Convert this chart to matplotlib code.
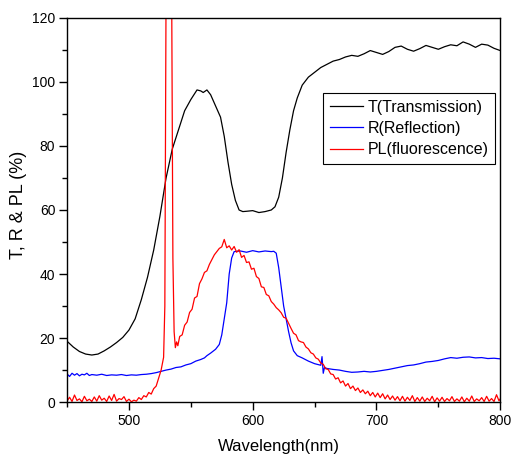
import matplotlib
matplotlib.use("Agg")
import matplotlib.pyplot as plt
from matplotlib.ticker import MultipleLocator

plt.rcParams['font.family'] = ['Liberation Sans', 'DejaVu Sans']

# Transmission (black)
t_nm = [450, 455, 460, 465, 470, 475, 480, 485, 490, 495, 500, 505, 510, 515, 520, 525, 530, 535, 540,
        545, 550, 555, 558, 560, 563, 566, 570, 574, 577, 580, 583, 586, 589, 592, 595, 600, 605, 610,
        615, 618, 621, 624, 627, 630, 633, 636, 640, 645, 650, 655, 660, 665, 670, 675, 680, 685, 690,
        695, 700, 705, 710, 715, 720, 725, 730, 735, 740, 745, 750, 755, 760, 765, 770, 775, 780, 785,
        790, 795, 800]
t_val = [19.0, 17.2, 15.8, 15.0, 14.7, 15.0, 16.0, 17.2, 18.6, 20.2, 22.5, 26.0, 32.0, 39.0, 47.5, 58.0,
         70.0, 79.0, 85.0, 91.0, 94.5, 97.5, 97.2, 96.7, 97.5, 96.0, 92.5, 89.0, 83.0, 75.0, 68.0, 63.0,
         60.0, 59.5, 59.6, 59.8, 59.2, 59.5, 60.0, 61.0, 64.0, 70.0, 78.0, 85.0, 91.0, 95.0, 99.0, 101.5,
         103.0, 104.5, 105.5, 106.5, 107.0, 107.8, 108.3, 108.0, 108.8, 109.8, 109.2, 108.6, 109.5, 110.8,
         111.2, 110.2, 109.6, 110.4, 111.4, 110.8, 110.2, 111.0, 111.6, 111.3, 112.5, 111.8, 110.8, 111.8,
         111.5, 110.5, 109.8]

# Reflection (blue)
r_nm = [450, 452, 454, 456, 458, 460, 462, 464, 466, 468, 470, 474, 478, 482, 486, 490, 494, 498, 502,
        506, 510, 514, 518, 522, 526, 530, 534, 538, 542, 546, 550, 554, 558, 561, 563, 566, 570, 573,
        575, 577, 579, 581, 583, 585, 590, 595, 600, 605, 610, 615, 617, 619, 621, 623, 625, 627, 629,
        631, 633, 636, 640, 645, 650, 655, 656, 657, 658, 660, 665, 670, 675, 680, 685, 690, 695, 700,
        705, 710, 715, 720, 725, 730, 735, 740, 745, 750, 755, 760, 765, 770, 775, 780, 785, 790, 795, 800]
r_val = [8.8, 8.0, 9.0, 8.4, 8.9, 8.2, 8.7, 8.5, 9.0, 8.3, 8.6, 8.4, 8.7, 8.3, 8.5, 8.4, 8.6, 8.3, 8.5,
         8.4, 8.6, 8.7, 8.9, 9.2, 9.6, 10.0, 10.3, 10.8, 11.0, 11.6, 12.0, 12.8, 13.3, 13.8, 14.5, 15.3,
         16.5, 18.0, 21.0, 26.0, 31.0, 40.0, 45.0, 47.0, 47.2, 46.8, 47.3, 46.9, 47.2, 47.0, 47.1, 46.5,
         42.0, 36.0, 30.0, 26.0, 22.0, 18.5, 16.0, 14.5, 13.8, 12.8, 12.0, 11.5, 14.2, 9.0, 10.8, 10.5,
         10.2, 10.0, 9.6, 9.3, 9.4, 9.6, 9.4, 9.6, 9.9, 10.2, 10.6, 11.0, 11.4, 11.6, 12.0, 12.5, 12.7,
         13.0, 13.5, 13.9, 13.7, 14.0, 14.1, 13.8, 13.9, 13.6, 13.7, 13.5]

# Photoluminescence (red), in three wavelength segments
pl_nm_low = list(range(450, 529, 2))          # 450 ... 528
pl_val_low = [0.3, 1.5, 0.2, 2.2, 0.5, 1.0, 0.1, 1.8, 0.4, 0.9,
              0.2, 1.6, 0.3, 2.0, 0.6, 1.2, 0.2, 1.9, 0.5, 2.4,
              0.3, 1.1, 0.8, 1.7, 0.2, 0.9, 0.1, 0.6, 0.3, 1.4,
              0.8, 2.0, 1.6, 3.0, 2.5, 4.2, 5.0, 7.5, 10.0, 14.0]
pl_nm_peak = [529, 530, 531, 533, 534.5, 535.5, 536.5, 537.5, 538.5, 539.5]
pl_val_peak = [30.0, 130.0, 140.0, 140.0, 130.0, 45.0, 22.0, 17.0, 18.8, 17.6]
pl_nm_high = list(range(541, 800, 2)) + [800]  # 541 ... 799, 800
pl_val_high = [20.5, 21.0, 24.0, 25.0, 28.0, 29.0, 32.5, 33.0, 37.0, 38.5,
               40.5, 41.0, 43.0, 44.5, 46.0, 47.0, 48.0, 48.5, 50.8, 48.2,
               48.8, 47.5, 48.6, 46.8, 47.6, 45.2, 45.8, 43.6, 43.8, 41.5,
               41.8, 39.2, 38.6, 36.0, 35.8, 33.6, 33.2, 31.4, 30.6, 29.5,
               28.8, 27.9, 26.5, 26.2, 24.6, 23.0, 21.5, 21.0, 19.2, 18.8,
               18.6, 17.2, 16.6, 15.4, 15.0, 13.8, 13.4, 12.2, 11.8, 10.4,
               10.2, 8.8, 8.6, 7.2, 7.6, 6.0, 6.6, 5.0, 5.8, 4.2,
               5.0, 3.6, 4.4, 3.0, 3.8, 2.6, 3.4, 2.0, 3.0, 1.6,
               2.8, 1.4, 2.6, 1.0, 2.2, 0.8, 1.9, 0.6, 1.7, 0.4,
               1.8, 0.3, 1.5, 0.5, 2.0, 0.2, 1.4, 0.3, 1.6, 0.2,
               1.2, 0.4, 1.8, 0.1, 1.3, 0.3, 1.5, 0.2, 1.1, 0.4,
               1.7, 0.2, 1.0, 0.3, 1.6, 0.1, 1.2, 0.3, 1.9, 0.2,
               1.0, 0.4, 1.4, 0.2, 1.8, 0.3, 1.1, 0.2, 2.3, 0.4,
               1.0]

pl_nm = pl_nm_low + pl_nm_peak + pl_nm_high
pl_val = pl_val_low + pl_val_peak + pl_val_high

series_labels = ['T(Transmission)', 'R(Reflection)', 'PL(fluorescence)']

fig = plt.figure(figsize=(5.12, 4.59), dpi=100)
ax = fig.add_axes([0.131, 0.124, 0.846, 0.837])

ax.plot(t_nm, t_val, color='black', lw=0.9, label=series_labels[0])
ax.plot(r_nm, r_val, color='#0000ff', lw=0.9, label=series_labels[1])
ax.plot(pl_nm, pl_val, color='#ff0000', lw=0.9, label=series_labels[2])

ax.set_xlim(450, 800)
ax.set_ylim(0, 120)
ax.xaxis.set_major_locator(MultipleLocator(100))
ax.xaxis.set_minor_locator(MultipleLocator(50))
ax.yaxis.set_major_locator(MultipleLocator(20))
ax.yaxis.set_minor_locator(MultipleLocator(10))
ax.tick_params(which='both', direction='out', top=False, right=False, labelsize=10, width=1.0)
ax.tick_params(which='major', length=5.5, pad=3)
ax.tick_params(which='minor', length=3.5)
for s in ax.spines.values():
    s.set_linewidth(1.0)

ax.set_xlabel('Wavelength(nm)', fontsize=12)
ax.set_ylabel('T, R & PL (%)', fontsize=13)
ax.xaxis.set_label_coords(0.488, -0.097)
ax.yaxis.set_label_coords(-0.093, 0.513)

leg = ax.legend(loc='upper left', bbox_to_anchor=(0.591, 0.805), borderaxespad=0, fontsize=11.5,
                fancybox=False, edgecolor='black', framealpha=1, handlelength=2.1,
                handletextpad=0.25, labelspacing=0.4, borderpad=0.42)
leg.get_frame().set_linewidth(0.8)

fig.savefig('out.png', dpi=100)
